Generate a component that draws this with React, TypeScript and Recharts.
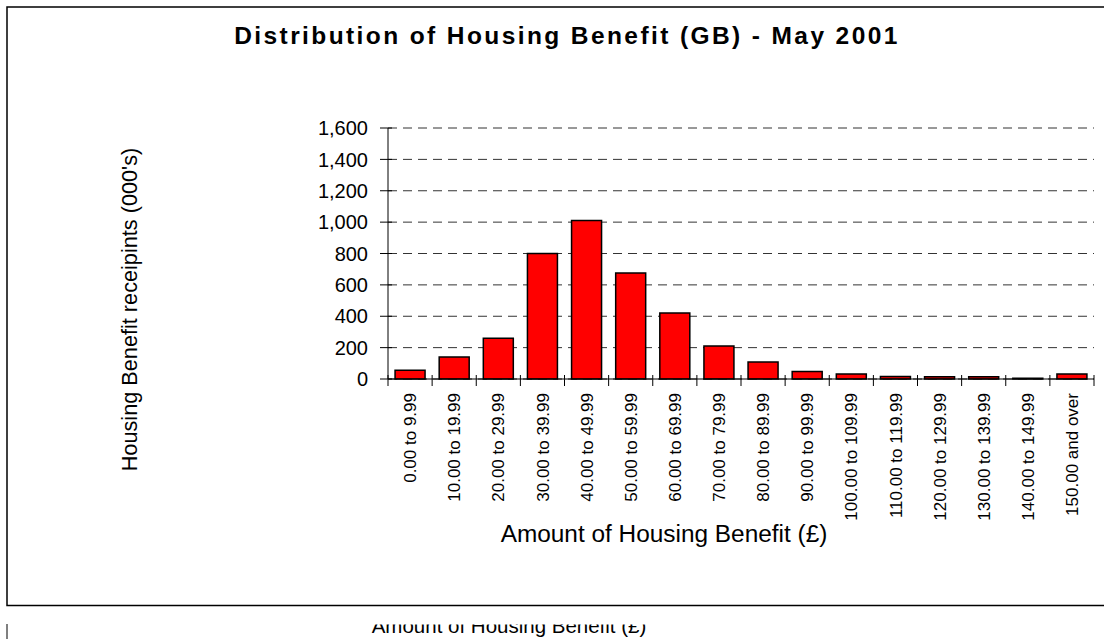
import React from 'react';
import { BarChart, Bar, XAxis, YAxis, CartesianGrid } from 'recharts';

const categories: string[] = [
  '0.00 to 9.99',
  '10.00 to 19.99',
  '20.00 to 29.99',
  '30.00 to 39.99',
  '40.00 to 49.99',
  '50.00 to 59.99',
  '60.00 to 69.99',
  '70.00 to 79.99',
  '80.00 to 89.99',
  '90.00 to 99.99',
  '100.00 to 109.99',
  '110.00 to 119.99',
  '120.00 to 129.99',
  '130.00 to 139.99',
  '140.00 to 149.99',
  '150.00 and over',
];

const receipts: number[] = [55, 140, 260, 800, 1010, 675, 420, 210, 108, 48, 32, 16, 15, 15, 4, 32];

const yTicks: number[] = [0, 200, 400, 600, 800, 1000, 1200, 1400, 1600];

const title = 'Distribution of Housing Benefit (GB) - May 2001';
const yTitle = "Housing Benefit receipints (000's)";
const xTitle = 'Amount of Housing Benefit (£)';

const data = categories.map((c, i) => ({ band: c, value: receipts[i] }));

const FONT = 'Arial, "Liberation Sans", sans-serif';

function XTick(props: any) {
  const { x, y, payload, index, width } = props;
  const band = width ? width / categories.length : 44;
  const half = payload && typeof payload.offset === 'number' && payload.offset > 0 ? payload.offset : band / 2;
  const axisY = y - 14;
  return (
    <g>
      <line x1={x - half} x2={x - half} y1={axisY - 4} y2={axisY + 7} stroke="#000" strokeWidth={1} />
      {index === categories.length - 1 && (
        <line x1={x + half} x2={x + half} y1={axisY - 4} y2={axisY + 7} stroke="#000" strokeWidth={1} />
      )}
      <text
        transform={`translate(${x},${y}) rotate(-90)`}
        textAnchor="end"
        dy="0.36em"
        fontSize={17}
        fill="#000"
        fontFamily={FONT}
      >
        {payload.value}
      </text>
    </g>
  );
}

function YTick(props: any) {
  const { x, y, payload } = props;
  const axisX = x + 20;
  return (
    <g>
      <line x1={axisX - 8} x2={axisX + 4} y1={y} y2={y} stroke="#000" strokeWidth={1} />
      <text x={x} y={y} dy="0.36em" textAnchor="end" fontSize={20} fill="#000" fontFamily={FONT}>
        {Number(payload.value).toLocaleString('en-US')}
      </text>
    </g>
  );
}

function YLabel(props: any) {
  const vb = props.viewBox || { x: 110, y: 128, width: 278, height: 251 };
  const cx = vb.x + 27;
  const cy = vb.y + vb.height / 2 + 56;
  return (
    <text
      transform={`translate(${cx},${cy}) rotate(-90)`}
      textAnchor="middle"
      fontSize={21.7}
      fill="#000"
      fontFamily={FONT}
    >
      {yTitle}
    </text>
  );
}

function XLabel(props: any) {
  const vb = props.viewBox || { x: 388, y: 379, width: 706, height: 180 };
  const cx = vb.x + vb.width / 2 - 77;
  const cy = vb.y + 163;
  return (
    <text x={cx} y={cy} textAnchor="middle" fontSize={24.4} fill="#000" fontFamily={FONT}>
      {xTitle}
    </text>
  );
}

export default function App() {
  return (
    <div style={{ position: 'absolute', left: 0, top: 0, width: 1104, height: 639, overflow: 'hidden', background: '#fff' }}>
      <svg width={1104} height={639} style={{ position: 'absolute', left: 0, top: 0 }}>
        <defs>
          <clipPath id="strayClip">
            <rect x={0} y={624.5} width={1104} height={20} />
          </clipPath>
        </defs>
        <rect x={7} y={7} width={1200} height={598.5} fill="none" stroke="#000" strokeWidth={1.5} />
        <text
          x={567}
          y={44}
          textAnchor="middle"
          fontSize={24.5}
          fontWeight="bold"
          fill="#000"
          fontFamily={FONT}
          style={{ letterSpacing: '2.4px' }}
        >
          {title}
        </text>
        <line x1={7} x2={7} y1={624} y2={639} stroke="#000" strokeWidth={1} />
        <g clipPath="url(#strayClip)">
          <text x={509} y={633} textAnchor="middle" fontSize={20.5} fill="#000" fontFamily={FONT}>
            {xTitle}
          </text>
        </g>
      </svg>
      <div style={{ position: 'absolute', left: 0, top: 0 }}>
        <BarChart
          width={1104}
          height={639}
          data={data}
          margin={{ top: 128, right: 10, bottom: 80, left: 110 }}
          barCategoryGap="16%"
        >
          <CartesianGrid vertical={false} stroke="#333" strokeDasharray="9 6" />
          <XAxis
            dataKey="band"
            type="category"
            interval={0}
            height={180}
            tickLine={false}
            tickSize={0}
            tickMargin={14}
            tick={<XTick />}
            axisLine={{ stroke: '#000', strokeWidth: 1 }}
            label={<XLabel />}
          />
          <YAxis
            type="number"
            domain={[0, 1600]}
            ticks={yTicks}
            interval={0}
            width={278}
            tickLine={false}
            tickSize={0}
            tickMargin={20}
            tick={<YTick />}
            axisLine={{ stroke: '#000', strokeWidth: 1 }}
            label={<YLabel />}
          />
          <Bar dataKey="value" fill="#ff0000" stroke="#000" strokeWidth={1.5} isAnimationActive={false} />
        </BarChart>
      </div>
    </div>
  );
}
